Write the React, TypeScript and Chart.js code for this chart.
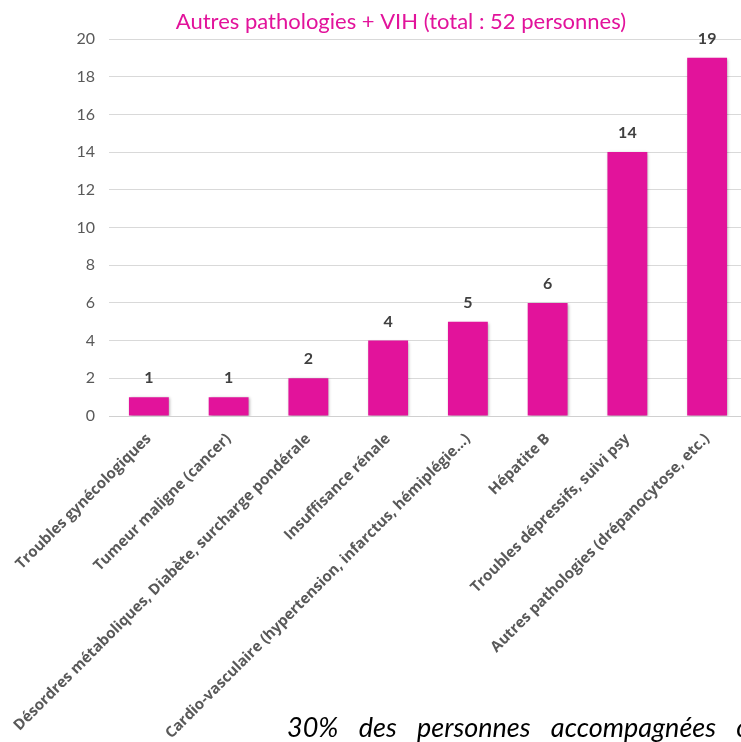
import React, { useEffect, useRef } from "react";
import { Chart, registerables } from "chart.js";

Chart.register(...registerables);

const title = "Autres pathologies + VIH (total : 52 personnes)";

const categories = [
  "Troubles gynécologiques",
  "Tumeur maligne (cancer)",
  "Désordres métaboliques, Diabète, surcharge pondérale",
  "Insuffisance rénale",
  "Cardio-vasculaire (hypertension, infarctus, hémiplégie...)",
  "Hépatite B",
  "Troubles dépressifs, suivi psy",
  "Autres pathologies (drépanocytose, etc.)",
];

const counts = [1, 1, 2, 4, 5, 6, 14, 19];

const yMin = 0;
const yMax = 20;
const yStep = 2;

const footnote = "30% des personnes accompagnées ont";

const MAGENTA = "#E2139B";
const FONT = "Lato, 'Open Sans', sans-serif";
const LABEL_FONT = "'Open Sans', Lato, sans-serif";

// Title centred over the full drawing width
const titleDraw = {
  id: "titleDraw",
  afterDraw(chart: any) {
    const ctx = chart.ctx;
    ctx.save();
    ctx.font = `22px ${FONT}`;
    ctx.fillStyle = MAGENTA;
    ctx.textAlign = "center";
    ctx.textBaseline = "middle";
    ctx.fillText(title, chart.width / 2, 22);
    ctx.restore();
  },
};

// Bold value above each bar
const valueLabels = {
  id: "valueLabels",
  afterDatasetsDraw(chart: any) {
    const ctx = chart.ctx;
    const meta = chart.getDatasetMeta(0);
    ctx.save();
    ctx.font = `bold 16px ${FONT}`;
    ctx.fillStyle = "#404040";
    ctx.textAlign = "center";
    ctx.textBaseline = "middle";
    meta.data.forEach((bar: any, i: number) => {
      ctx.fillText(String(counts[i]), bar.x, bar.y - 19);
    });
    ctx.restore();
  },
};

// Soft drop shadow under the bars
const barShadow = {
  id: "barShadow",
  beforeDatasetDraw(chart: any) {
    const ctx = chart.ctx;
    ctx.save();
    ctx.shadowColor = "rgba(0,0,0,0.35)";
    ctx.shadowBlur = 3;
    ctx.shadowOffsetX = 1;
    ctx.shadowOffsetY = 1;
  },
  afterDatasetDraw(chart: any) {
    chart.ctx.restore();
  },
};

export default function App() {
  const canvasRef = useRef<HTMLCanvasElement | null>(null);

  useEffect(() => {
    const canvas = canvasRef.current;
    if (!canvas) return;
    const chart = new Chart(canvas, {
      type: "bar",
      data: {
        labels: categories,
        datasets: [
          {
            data: counts,
            backgroundColor: MAGENTA,
            borderWidth: 0,
            categoryPercentage: 1,
            barPercentage: 0.5,
          },
        ],
      },
      options: {
        responsive: false,
        animation: false,
        devicePixelRatio: 1,
        layout: { padding: { left: 0, right: 55, top: 39, bottom: 0 } },
        plugins: {
          legend: { display: false },
          tooltip: { enabled: false },
          title: { display: false },
        },
        scales: {
          x: {
            grid: { display: false, drawTicks: false },
            border: { display: true, color: "#d0d0d0", width: 1 },
            ticks: {
              color: "#595959",
              font: { family: LABEL_FONT, size: 15, weight: "bold" },
              minRotation: 45,
              maxRotation: 45,
              autoSkip: false,
              padding: 14,
            },
            afterFit(scale: any) {
              scale.height = 326;
              scale.paddingLeft = 0;
              scale.paddingRight = 0;
            },
          },
          y: {
            min: yMin,
            max: yMax,
            ticks: {
              stepSize: yStep,
              color: "#595959",
              font: { family: FONT, size: 16 },
              padding: 14,
            },
            grid: { color: "#d9d9d9", drawTicks: false },
            border: { display: false },
            afterFit(scale: any) {
              scale.width = 109;
              scale.paddingTop = 0;
            },
          },
        },
      },
      plugins: [barShadow, valueLabels, titleDraw],
    });
    return () => chart.destroy();
  }, []);

  return (
    <div
      style={{
        position: "fixed",
        left: 0,
        top: 0,
        width: 741,
        height: 742,
        overflow: "hidden",
        background: "#fff",
      }}
    >
      <canvas
        ref={canvasRef}
        width={802}
        height={742}
        style={{ position: "absolute", left: 0, top: 0, width: 802, height: 742 }}
      />
      <div
        style={{
          position: "absolute",
          left: 287,
          top: 711,
          fontFamily: FONT,
          fontStyle: "italic",
          fontSize: 27,
          lineHeight: "32px",
          wordSpacing: 14,
          whiteSpace: "nowrap",
          color: "#000",
        }}
      >
        {footnote}
      </div>
    </div>
  );
}
